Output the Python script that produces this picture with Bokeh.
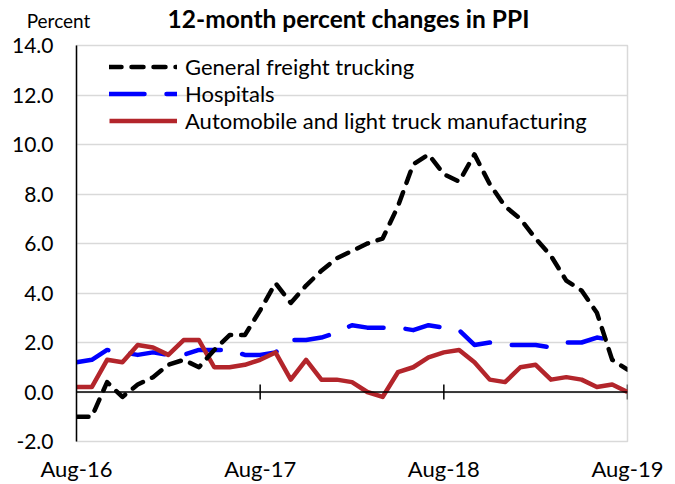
from bokeh.plotting import figure
from bokeh.layouts import column
from bokeh.models import (ColumnDataSource, FixedTicker, NumeralTickFormatter, Span,
                          Legend, LegendItem, Label, Range1d)
from bokeh.embed import file_html
from bokeh.resources import INLINE

# ---------------- data ----------------
months = ["Aug-16", "Sep-16", "Oct-16", "Nov-16", "Dec-16", "Jan-17", "Feb-17", "Mar-17",
          "Apr-17", "May-17", "Jun-17", "Jul-17", "Aug-17", "Sep-17", "Oct-17", "Nov-17",
          "Dec-17", "Jan-18", "Feb-18", "Mar-18", "Apr-18", "May-18", "Jun-18", "Jul-18",
          "Aug-18", "Sep-18", "Oct-18", "Nov-18", "Dec-18", "Jan-19", "Feb-19", "Mar-19",
          "Apr-19", "May-19", "Jun-19", "Jul-19", "Aug-19"]

freight = [-1.0, -1.0, 0.4, -0.2, 0.3, 0.6, 1.1, 1.3, 1.0, 1.7, 2.3, 2.3,
           3.3, 4.4, 3.6, 4.3, 4.9, 5.4, 5.7, 6.0, 6.2, 7.5, 9.2, 9.6,
           8.8, 8.5, 9.6, 8.4, 7.5, 7.0, 6.2, 5.5, 4.5, 4.1, 3.2, 1.3, 0.9]

hospitals = [1.2, 1.3, 1.7, 1.6, 1.5, 1.6, 1.5, 1.5, 1.7, 1.7, 1.7, 1.5,
             1.5, 1.6, 2.1, 2.1, 2.2, 2.4, 2.7, 2.6, 2.6, 2.6, 2.5, 2.7,
             2.6, 2.5, 1.9, 2.0, 1.9, 1.9, 1.9, 1.8, 2.0, 2.0, 2.2, 2.1, float("nan")]

auto = [0.2, 0.2, 1.3, 1.2, 1.9, 1.8, 1.5, 2.1, 2.1, 1.0, 1.0, 1.1,
        1.3, 1.6, 0.5, 1.3, 0.5, 0.5, 0.4, 0.0, -0.2, 0.8, 1.0, 1.4,
        1.6, 1.7, 1.2, 0.5, 0.4, 1.0, 1.1, 0.5, 0.6, 0.5, 0.2, 0.3, 0.0]

series_names = ["General freight trucking", "Hospitals",
                "Automobile and light truck manufacturing"]
title_text = "12-month percent changes in PPI"
unit_text = "Percent"
x_tick_labels = ["Aug-16", "Aug-17", "Aug-18", "Aug-19"]
y_ticks = [-2, 0, 2, 4, 6, 8, 10, 12, 14]

# ---------------- build ----------------
FONT = "Lato"
W = 675
HEAD_H = 32
x = list(range(len(months)))
x_ticks = [months.index(lbl) for lbl in x_tick_labels]

# header strip holding the title and unit label
head = figure(width=W, height=HEAD_H, output_backend="svg", toolbar_location=None,
              title=None, x_range=Range1d(0, W), y_range=Range1d(0, HEAD_H),
              x_axis_location=None, y_axis_location=None,
              min_border_left=0, min_border_right=0, min_border_top=0, min_border_bottom=0)
head.outline_line_color = None
head.grid.visible = False
head.add_layout(Label(x=348, y=14, text=title_text, text_align="center",
                      text_baseline="middle", text_font=FONT, text_font_style="bold",
                      text_font_size="24.5px", text_color="#000000"))
head.add_layout(Label(x=58, y=12, text=unit_text, text_align="center",
                      text_baseline="middle", text_font=FONT, text_font_size="19px",
                      text_color="#000000"))

src = ColumnDataSource(dict(x=x, freight=freight, hospitals=hospitals, auto=auto))

p = figure(width=W, height=484 - HEAD_H, output_backend="svg", toolbar_location=None,
           title=None,
           x_range=Range1d(x[0], x[-1]), y_range=Range1d(y_ticks[0], y_ticks[-1]),
           min_border_left=76, min_border_right=48, min_border_top=45 - HEAD_H,
           min_border_bottom=42)

for fig in (head, p):
    try:
        fig.frame_align = False
    except Exception:
        pass

p.background_fill_color = "white"
p.border_fill_color = "white"
p.outline_line_color = "#D9D9D9"
p.outline_line_width = 1.5

# grid
p.xgrid.visible = False
p.ygrid.grid_line_color = "#D9D9D9"
p.ygrid.grid_line_width = 1.5

# y axis
p.yaxis.ticker = FixedTicker(ticks=y_ticks)
p.yaxis.formatter = NumeralTickFormatter(format="0.0")
p.yaxis.axis_line_color = "black"
p.yaxis.axis_line_width = 1.5
p.yaxis.major_tick_line_color = None
p.yaxis.minor_tick_line_color = None
p.yaxis.major_tick_out = 0
p.yaxis.major_tick_in = 0
p.yaxis.major_label_standoff = 23
p.yaxis.major_label_text_font = FONT
p.yaxis.major_label_text_font_size = "21px"
p.yaxis.major_label_text_color = "#000000"

# x axis (labels only, at bottom)
p.xaxis.ticker = FixedTicker(ticks=x_ticks)
p.xaxis.major_label_overrides = {t: l for t, l in zip(x_ticks, x_tick_labels)}
p.xaxis.axis_line_color = None
p.xaxis.major_tick_line_color = None
p.xaxis.minor_tick_line_color = None
p.xaxis.major_tick_out = 0
p.xaxis.major_tick_in = 0
p.xaxis.major_label_standoff = 13
p.xaxis.major_label_text_font = FONT
p.xaxis.major_label_text_font_size = "22px"
p.xaxis.major_label_text_color = "#000000"

# zero line with tick marks
p.add_layout(Span(location=0, dimension="width", line_color="black", line_width=1.5))
tick_half = 0.3
p.segment(x0=x_ticks[1:], x1=x_ticks[1:], y0=[-tick_half] * 3, y1=[tick_half] * 3,
          line_color="black", line_width=1.5)

# series
r_h = p.line("x", "hospitals", source=src, line_color="#0000FF", line_width=4.5,
             line_dash="35 22", line_cap="round", line_join="round")
r_a = p.line("x", "auto", source=src, line_color="#B3252B", line_width=4.5,
             line_join="round")
r_f = p.line("x", "freight", source=src, line_color="black", line_width=4.5,
             line_dash="12 10", line_cap="round", line_join="round")

legend = Legend(items=[LegendItem(label=series_names[0], renderers=[r_f]),
                       LegendItem(label=series_names[1], renderers=[r_h]),
                       LegendItem(label=series_names[2], renderers=[r_a])],
                location=(33, 307), padding=0, margin=0, spacing=0,
                glyph_width=68, glyph_height=27, label_height=27, label_standoff=8,
                label_text_font=FONT, label_text_font_size="22px",
                label_text_color="#000000",
                background_fill_alpha=0, border_line_alpha=0)
p.add_layout(legend)

layout = column(head, p, spacing=0)
open("out.html", "w").write(file_html(layout, INLINE))
